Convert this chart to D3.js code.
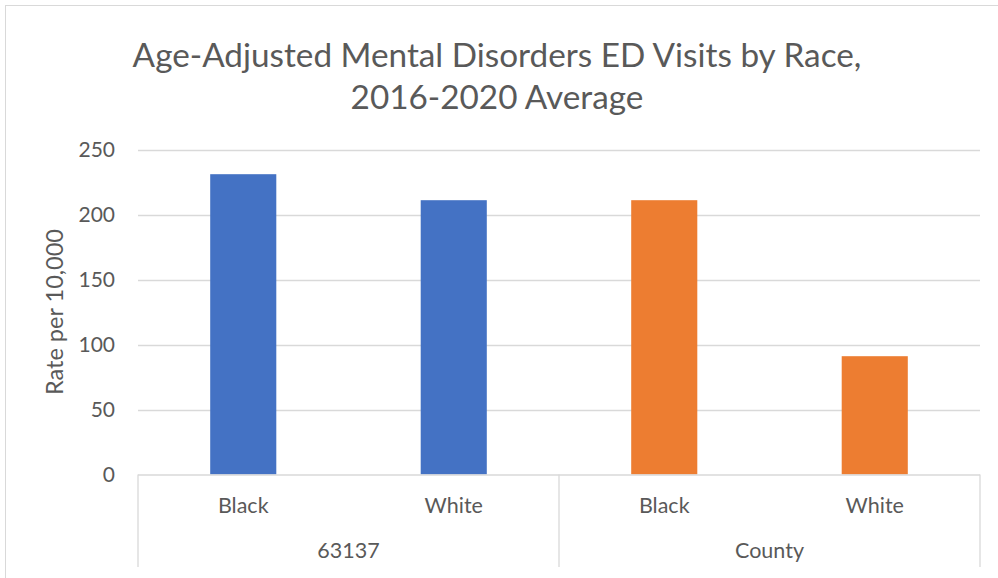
<!DOCTYPE html>
<html><head><meta charset="utf-8">
<script src="https://cdn.jsdelivr.net/npm/d3@7"></script>
<style>body{margin:0;background:#fff}svg{display:block}text{font-family:Lato,"Open Sans",sans-serif;fill:#595959}</style>
</head><body><svg id="c" width="998" height="578"></svg>
<script>
const groups = ["63137", "County"];
const categories = ["Black", "White"];
const values63137 = [231, 211];
const valuesCounty = [211, 91];
const yTicks = [0, 50, 100, 150, 200, 250];
const titleLines = ["Age-Adjusted Mental Disorders ED Visits by Race,", "2016-2020 Average"];
const yTitle = "Rate per 10,000";
const colors = {"63137": "#4472C4", "County": "#ED7D31"};

const data = [];
groups.forEach((g, gi) => {
  const vals = gi === 0 ? values63137 : valuesCounty;
  categories.forEach((c, ci) => data.push({group: g, cat: c, value: vals[ci], key: g + "|" + c}));
});

const svg = d3.select("#c");
const L = 138, R = 980, T = 149.5, B = 474.5;

// outer border
svg.append("rect").attr("x", 5.5).attr("y", 5.5).attr("width", 1100).attr("height", 1000)
  .attr("fill", "none").attr("stroke", "#d9d9d9").attr("stroke-width", 1);

const x = d3.scaleBand().domain(data.map(d => d.key)).range([L, R]).paddingInner(0.686).paddingOuter(0.343);
const y = d3.scaleLinear().domain([0, 250]).range([B, T]);

// gridlines
svg.append("g").selectAll("line").data(yTicks.filter(t => t > 0)).join("line")
  .attr("x1", L).attr("x2", R).attr("y1", d => Math.round(y(d)) + 0.5).attr("y2", d => Math.round(y(d)) + 0.5)
  .attr("stroke", "#d9d9d9").attr("stroke-width", 1.3);

// y tick labels
svg.append("g").selectAll("text").data(yTicks).join("text")
  .attr("x", 115).attr("y", d => y(d)).attr("dy", "0.36em").attr("text-anchor", "end")
  .attr("font-size", 21).text(d => d);

// bars
svg.append("g").selectAll("rect").data(data).join("rect")
  .attr("x", d => x(d.key)).attr("width", x.bandwidth())
  .attr("y", d => y(d.value)).attr("height", d => y(0) - y(d.value))
  .attr("fill", d => colors[d.group]);

// x axis line
svg.append("line").attr("x1", L).attr("x2", R).attr("y1", B + 0.5).attr("y2", B + 0.5)
  .attr("stroke", "#d9d9d9").attr("stroke-width", 1.3);

// group separators
const step = (R - L) / data.length;
const seps = [L, L + step * categories.length, R];
svg.append("g").selectAll("line").data(seps).join("line")
  .attr("x1", d => d).attr("x2", d => d).attr("y1", B).attr("y2", 567)
  .attr("stroke", "#d9d9d9").attr("stroke-width", 1.3);

// category labels
svg.append("g").selectAll("text").data(data).join("text")
  .attr("x", d => x(d.key) + x.bandwidth() / 2).attr("y", 513)
  .attr("text-anchor", "middle").attr("font-size", 21.5).text(d => d.cat);

// group labels
svg.append("g").selectAll("text").data(groups).join("text")
  .attr("x", (d, i) => (seps[i] + seps[i + 1]) / 2).attr("y", 558)
  .attr("text-anchor", "middle").attr("font-size", 21.5).text(d => d);

// y title
svg.append("text").attr("transform", "translate(63,312) rotate(-90)")
  .attr("text-anchor", "middle").attr("font-size", 23.5).text(yTitle);

// title
svg.append("g").selectAll("text").data(titleLines).join("text")
  .attr("x", 497).attr("y", (d, i) => 67 + i * 42).attr("text-anchor", "middle")
  .attr("font-size", 33.3).text(d => d);
</script></body></html>
